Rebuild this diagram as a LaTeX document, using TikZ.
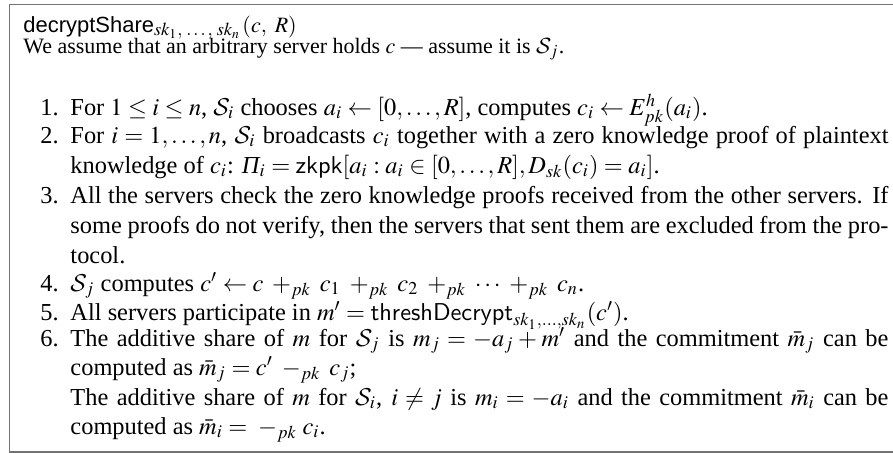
\documentclass[tikz,border=0pt]{standalone}
\usepackage{mathptmx}
\usepackage[no-math]{fontspec}
\setmainfont{Liberation Serif}
\setsansfont{Liberation Sans}
\DeclareMathAlphabet{\mathcal}{OMS}{cmsy}{m}{n}
\newcommand{\pkadd}{\mathbin{\;+_{pk}\;}}
\newcommand{\pksub}{\;-_{pk}\;}
\newcommand{\itPi}{\mbox{\itshape Π}}
\newlength{\itemw}
\setlength{\itemw}{335.4pt}
\newcommand{\jline}[1]{\hbox to \itemw{#1}}
\begin{document}
\begin{tikzpicture}[x=0.41pt,y=-0.41pt,
  txt/.style={anchor=base west, inner sep=0pt, font=\fontsize{10}{12}\selectfont},
  head/.style={anchor=base west, inner sep=0pt, font=\fontsize{9}{11}\selectfont},
  num/.style={anchor=base west, inner sep=0pt, font=\fontsize{10}{12}\selectfont},
  frame/.style={draw=black!55, line width=0.55pt}]
\useasboundingbox (0,0) rectangle (893,453);
% frame, open on the right
\coordinate (fa) at (905,4.5);
\coordinate (fb) at (9.5,4.5);
\coordinate (fc) at (9.5,452);
\coordinate (fd) at (905,452);
\draw[frame] (fa) -- (fb) -- (fc) -- (fd);
% heading
\node[head] (title) at (23,32) {\textsf{decryptShare}\raisebox{-1.5pt}{\fontsize{7.5}{9}\selectfont$sk_1,\,\ldots,\,sk_n$}$\,(c,\ R)$};
\node[head] (intro) at (23,53) {We assume that an arbitrary server holds $c$ --- assume it is $\mathcal{S}_j$.};
% step numbers
\node[num] (n1) at (40,115) {1.};
\node[num] (n2) at (40,143) {2.};
\node[num] (n3) at (40,203) {3.};
\node[num] (n4) at (40,291) {4.};
\node[num] (n5) at (40,320) {5.};
\node[num] (n6) at (40,346) {6.};
% step texts
\node[txt] (s1) at (70,115) {For $1\le i\le n$, $\mathcal{S}_i$ chooses $a_i \leftarrow [0,\ldots,R]$, computes $c_i \leftarrow E^h_{pk}(a_i)$.};
\node[txt] (s2a) at (70,143) {\jline{For $i=1,\ldots,n$, $\mathcal{S}_i$ broadcasts $c_i$ together with a zero knowledge proof of plaintext}};
\node[txt] (s2b) at (70,173) {knowledge of $c_i$: $\itPi_i = \mathsf{zkpk}[a_i : a_i \in [0,\ldots,R], D_{sk}(c_i) = a_i]$.};
\node[txt] (s3a) at (70,203) {\jline{All the servers check the zero knowledge proofs received from the other servers. If}};
\node[txt] (s3b) at (70,233) {\jline{some proofs do not verify, then the servers that sent them are excluded from the pro-}};
\node[txt] (s3c) at (70,263) {tocol.};
\node[txt] (s4) at (70,291) {$\mathcal{S}_j$ computes $c' \leftarrow c \pkadd c_1 \pkadd c_2 \pkadd \cdots \pkadd c_n$.};
\node[txt] (s5) at (70,320) {All servers participate in $m' = \mathsf{threshDecrypt}_{sk_1,\ldots,sk_n}(c')$.};
\node[txt] (s6a) at (70,346) {\jline{The additive share of $m$ for $\mathcal{S}_j$ is $m_j = -a_j + m'$ and the commitment $\bar m_j$ can be}};
\node[txt] (s6b) at (70,375) {computed as $\bar m_j = c' \pksub c_j$;};
\node[txt] (s6c) at (70,405) {\jline{The additive share of $m$ for $\mathcal{S}_i$, $i\neq j$ is $m_i = -a_i$ and the commitment $\bar m_i$ can be}};
\node[txt] (s6d) at (70,434) {computed as $\bar m_i = \pksub c_i$.};
\end{tikzpicture}
\end{document}
